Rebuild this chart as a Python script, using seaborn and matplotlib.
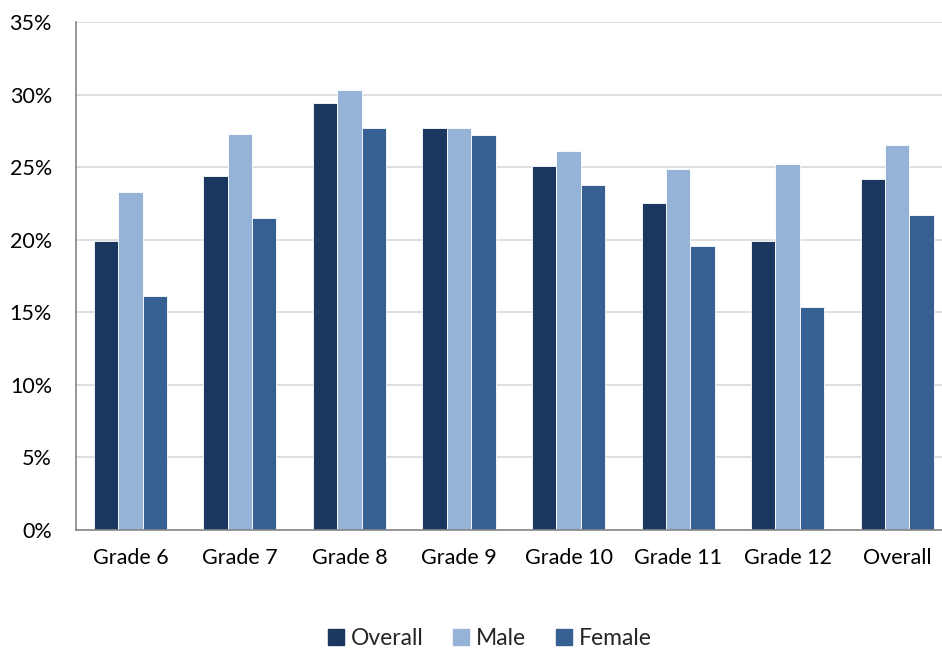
import matplotlib
matplotlib.use("Agg")
import matplotlib.pyplot as plt
from matplotlib.ticker import FuncFormatter, FixedLocator
import seaborn as sns
import pandas as pd

categories = ["Grade 6", "Grade 7", "Grade 8", "Grade 9", "Grade 10",
              "Grade 11", "Grade 12", "Overall"]
overall = [19.9, 24.4, 29.4, 27.7, 25.1, 22.5, 19.9, 24.2]
male = [23.3, 27.3, 30.3, 27.7, 26.1, 24.9, 25.2, 26.5]
female = [16.1, 21.5, 27.7, 27.2, 23.8, 19.6, 15.4, 21.7]
series_names = ["Overall", "Male", "Female"]
y_ticks = [0, 5, 10, 15, 20, 25, 30, 35]

colors = ["#1A375F", "#95B3D7", "#366092"]

rows = []
for name, vals in zip(series_names, [overall, male, female]):
    for cat, v in zip(categories, vals):
        rows.append({"Grade": cat, "Group": name, "Value": v})
df = pd.DataFrame(rows)

sns.set_theme(style="white")
plt.rcParams["font.family"] = ["Lato", "DejaVu Sans"]

fig = plt.figure(figsize=(9.42, 6.5), dpi=100)
ax = fig.add_axes([0.0802, 0.1846, 0.9304, 0.7815])

sns.barplot(data=df, x="Grade", y="Value", hue="Group", order=categories,
            hue_order=series_names, palette=colors, width=0.667,
            edgecolor="white", linewidth=0.6, saturation=1, ax=ax, legend=True)

ax.set_xlim(-0.5, len(categories) - 0.5)
ax.set_ylim(0, 35)
ax.yaxis.set_major_locator(FixedLocator(y_ticks))
ax.yaxis.set_major_formatter(FuncFormatter(lambda v, p: f"{v:.0f}%"))
ax.grid(axis="y", color="#D9D9D9", linewidth=1.2)
ax.set_axisbelow(True)

for side in ["top", "right"]:
    ax.spines[side].set_visible(False)
for side in ["left", "bottom"]:
    ax.spines[side].set_color("#868686")
    ax.spines[side].set_linewidth(1.2)

ax.set_xticks([i for i in range(len(categories))])
ax.set_xticklabels(categories)
ax.tick_params(axis="x", length=0, pad=13, labelsize=15.5, colors="black")
ax.set_xticks([i - 0.5 for i in range(len(categories) + 1)], minor=True)
ax.tick_params(axis="x", which="minor", length=6, width=1.2, color="#868686",
               direction="out")
ax.tick_params(axis="y", length=6, width=1.2, color="#868686", direction="out",
               pad=11, labelsize=15.5, labelcolor="black")
ax.set_xlabel("")
ax.set_ylabel("")

ax.legend_.remove()
handles = [plt.Rectangle((0, 0), 1, 1, color=c) for c in colors]
fig.legend(handles, series_names, loc="center", bbox_to_anchor=(0.520, 0.017),
           ncol=3, frameon=False, fontsize=16.5, handlelength=0.7,
           handleheight=0.7, handletextpad=0.3, columnspacing=1.3)

fig.savefig("out.png", dpi=100)
